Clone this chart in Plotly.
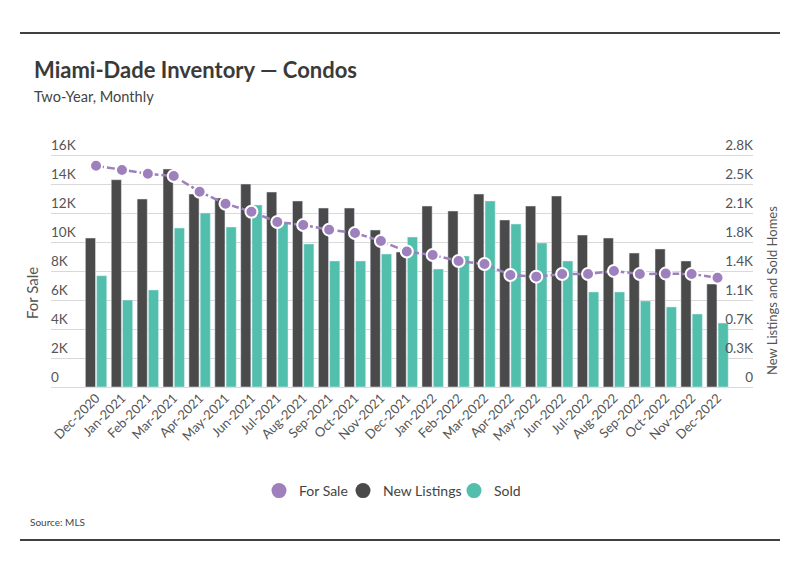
import plotly.graph_objects as go

months = ["Dec-2020", "Jan-2021", "Feb-2021", "Mar-2021", "Apr-2021", "May-2021", "Jun-2021",
          "Jul-2021", "Aug-2021", "Sep-2021", "Oct-2021", "Nov-2021", "Dec-2021", "Jan-2022",
          "Feb-2022", "Mar-2022", "Apr-2022", "May-2022", "Jun-2022", "Jul-2022", "Aug-2022",
          "Sep-2022", "Oct-2022", "Nov-2022", "Dec-2022"]
for_sale = [15260, 14970, 14710, 14550, 13470, 12640, 12090, 11380, 11170, 10850, 10620, 10070,
            9340, 9100, 8690, 8480, 7720, 7610, 7790, 7790, 8000, 7790, 7820, 7790, 7540]
new_listings = [1798, 2502, 2269, 2631, 2329, 2280, 2450, 2353, 2245, 2160, 2160, 1895, 1629,
                2184, 2124, 2329, 2016, 2184, 2305, 1834, 1798, 1617, 1666, 1521, 1243]
sold = [1343, 1050, 1171, 1919, 2100, 1931, 2197, 1985, 1726, 1521, 1521, 1605, 1810, 1424,
        1581, 2245, 1967, 1738, 1521, 1147, 1147, 1038, 966, 881, 772]
left_ticks = [0, 2000, 4000, 6000, 8000, 10000, 12000, 14000, 16000]
left_text = ["0", "2K", "4K", "6K", "8K", "10K", "12K", "14K", "16K"]
right_ticks = [0, 350, 700, 1050, 1400, 1750, 2100, 2450, 2800]
right_text = ["0", "0.3K", "0.7K", "1.1K", "1.4K", "1.8K", "2.1K", "2.5K", "2.8K"]

PURPLE = "#9d80bc"
DARK = "#4a4a4a"
TEAL = "#51bfab"
FONT = "Lato, sans-serif"

W, H = 799, 575
L, R = 51, 46
TOP, ZERO = 155, 387          # pixel rows of top gridline and zero gridline
PADB, PADT = 10, 28            # extra px inside plot area below zero / above top gridline
T, B = TOP - PADT, H - ZERO - PADB
pw, ph = W - L - R, ZERO + PADB - (TOP - PADT)
unit_r = 2800 / (ZERO - TOP)
unit_l = 16000 / (ZERO - TOP)

def px(x):
    return (x - L) / pw

def py(y):
    return (ZERO + PADB - y) / ph

fig = go.Figure()
fig.add_trace(go.Bar(x=months, y=new_listings, name="New Listings", marker_color=DARK,
                     showlegend=False, yaxis="y"))
fig.add_trace(go.Bar(x=months, y=sold, name="Sold", marker_color=TEAL,
                     showlegend=False, yaxis="y"))
fig.add_trace(go.Scatter(x=months, y=for_sale, name="For Sale", mode="lines+markers",
                         line=dict(color=PURPLE, width=2.5, dash="8px,3px"),
                         marker=dict(size=12, color=PURPLE, line=dict(color="white", width=2)),
                         showlegend=False, yaxis="y2"))
legend_items = [("For Sale", PURPLE, "legend", 281), ("New Listings", DARK, "legend2", 365),
                ("Sold", TEAL, "legend3", 476)]
for nm, col, lg, _ in legend_items:
    fig.add_trace(go.Scatter(x=[None], y=[None], mode="markers", name=nm, legend=lg,
                             marker=dict(size=15, color=col), yaxis="y2"))

leg_common = dict(orientation="h", yanchor="middle", xanchor="left",
                  font=dict(size=14, color="#444444"), itemwidth=30,
                  bgcolor="rgba(0,0,0,0)")
legends = {}
for nm, col, lg, cx in legend_items:
    legends[lg] = dict(leg_common, x=px(cx - 22), y=py(491))

ytick_font = dict(size=13.5, color="#555555")
fig.update_layout(
    width=W, height=H,
    margin=dict(l=L, r=R, t=T, b=B),
    paper_bgcolor="white", plot_bgcolor="white",
    font=dict(family=FONT, color="#555555", size=14),
    barmode="group", bargap=0.13, bargroupgap=0.1,
    xaxis=dict(type="category", range=[-1.74, 25.37], tickangle=-45,
               tickfont=dict(size=13, color="#555555"), showgrid=False, ticks="",
               showline=False, zeroline=False, ticklabelstandoff=-PADB),
    yaxis=dict(side="right", range=[-PADB * unit_r, 2800 + PADT * unit_r], tickvals=right_ticks,
               ticktext=right_text,
               showgrid=True, gridcolor="#d9d9d9", gridwidth=1, zeroline=False,
               ticklabelposition="inside", ticklabelshift=-10, ticklabelstandoff=-3,
               tickfont=ytick_font),
    yaxis2=dict(side="left", overlaying="y", range=[-PADB * unit_l, 16000 + PADT * unit_l],
                tickvals=left_ticks,
                ticktext=left_text, showgrid=False, zeroline=False,
                ticklabelposition="inside", ticklabelshift=-10, ticklabelstandoff=-3,
                tickfont=ytick_font),
    showlegend=True,
    **legends,
)

fig.add_annotation(text="<b>Miami-Dade Inventory — Condos</b>", xref="paper", yref="paper",
                   x=px(32), y=py(69), xanchor="left", yanchor="middle", showarrow=False,
                   font=dict(size=22, color="#3a3a3a"))
fig.add_annotation(text="Two-Year, Monthly", xref="paper", yref="paper",
                   x=px(32), y=py(97), xanchor="left", yanchor="middle", showarrow=False,
                   font=dict(size=14.6, color="#444444"))
fig.add_annotation(text="For Sale", xref="paper", yref="paper", x=px(32), y=py(293),
                   xanchor="center", yanchor="middle", showarrow=False, textangle=-90,
                   font=dict(size=15, color="#555555"))
fig.add_annotation(text="New Listings and Sold Homes", xref="paper", yref="paper",
                   x=px(772), y=py(291), xanchor="center", yanchor="middle", showarrow=False,
                   textangle=-90, font=dict(size=13, color="#555555"))
fig.add_annotation(text="Source: MLS", xref="paper", yref="paper", x=px(28), y=py(522),
                   xanchor="left", yanchor="middle", showarrow=False,
                   font=dict(size=10, color="#444444"))
for yy in (33, 540):
    fig.add_shape(type="line", xref="paper", yref="paper", x0=px(20), x1=px(780),
                  y0=py(yy), y1=py(yy), line=dict(color="black", width=1.5))

fig.write_html("out.html", post_script="document.body.style.margin='0px';",
               config={"displayModeBar": False})
